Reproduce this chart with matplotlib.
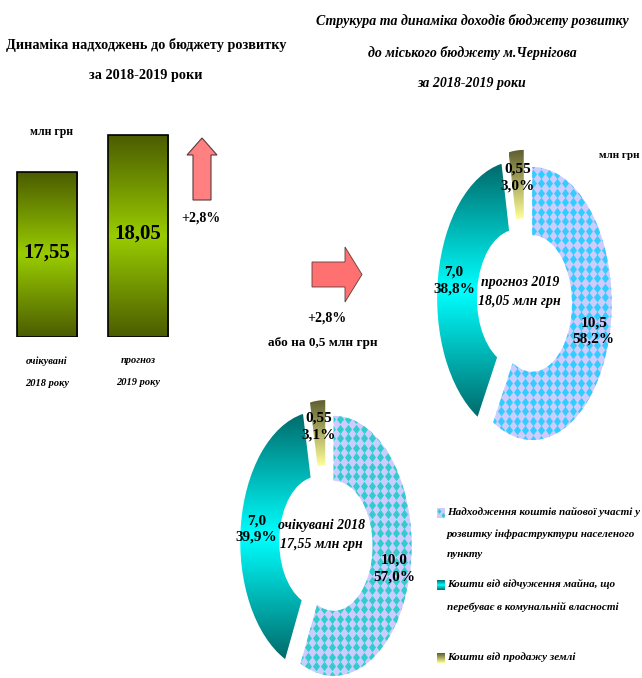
import numpy as np
import matplotlib
matplotlib.use("Agg")
import matplotlib.pyplot as plt
from matplotlib.colors import LinearSegmentedColormap
from matplotlib.patches import FancyArrow, Rectangle
from matplotlib.path import Path

plt.rcParams['font.family'] = ['Liberation Serif', 'DejaVu Serif']
plt.rcParams['font.weight'] = 'bold'

# ---- data ----
years = ['очікувані\n2018 року', 'прогноз\n2019 року']
totals = [17.55, 18.05]
total_labels = ['17,55', '18,05']
growth_pct = '+2,8%'
growth_abs = 'або на 0,5 млн грн'

sources = ['Надходження коштів пайової участі у\nрозвитку інфраструктури населеного\nпункту',
           'Кошти від відчуження майна, що\nперебуває в комунальній власності',
           'Кошти від продажу землі']
vals_2018 = [10.0, 7.0, 0.55]
vals_2019 = [10.5, 7.0, 0.55]
lbl_2018 = ['10,0\n57,0%', '7,0\n39,9%', '0,55\n3,1%']
lbl_2019 = ['10,5\n58,2%', '7,0\n38,8%', '0,55\n3,0%']
center_2018 = 'очікувані 2018\n17,55 млн грн'
center_2019 = 'прогноз 2019\n18,05 млн грн'

W, H = 642, 678
fig = plt.figure(figsize=(W / 100, H / 100), dpi=100)


def px_axes(x0, y0, x1, y1):
    a = fig.add_axes([x0 / W, 1 - y1 / H, (x1 - x0) / W, (y1 - y0) / H])
    a.axis('off')
    return a


bar_cmap = LinearSegmentedColormap.from_list('bar', ['#4b5c00', '#99cc00', '#4b5c00'])
teal_cmap = LinearSegmentedColormap.from_list('teal', ['#006b6b', '#00ffff', '#006b6b'])
olive_cmap = LinearSegmentedColormap.from_list('olive', ['#5c5c2e', '#ffff99'])
grad = np.linspace(0, 1, 256).reshape(-1, 1)

# background axes in pixel coords (texts, arrows, legend)
bg = px_axes(0, 0, W, H)
bg.set_xlim(0, W)
bg.set_ylim(H, 0)

bg.text(146, 60, 'Динаміка надходжень до бюджету розвитку\nза 2018-2019 роки',
        ha='center', va='center', fontsize=10.3, linespacing=2.6)
bg.text(472, 52, 'Струкура та динаміка доходів бюджету розвитку\nдо міського бюджету м.Чернігова\nза 2018-2019 роки',
        ha='center', va='center', fontsize=10, style='italic', linespacing=2.65)
bg.text(51, 132, 'млн грн', ha='center', va='center', fontsize=8.5)
bg.text(599, 155, 'млн грн', ha='left', va='center', fontsize=8)

# ---- bars ----
y_base = 15.32
bar_ax = px_axes(0, 65, 200, 337)
x = np.arange(len(totals))
bars = bar_ax.bar(x, np.array(totals) - y_base, bottom=y_base, width=0.66,
                  facecolor='none', edgecolor='black', linewidth=1.2, zorder=3)
for i, b in enumerate(bars):
    im = bar_ax.imshow(grad, cmap=bar_cmap, aspect='auto', zorder=2,
                       extent=(b.get_x(), b.get_x() + b.get_width(), y_base, totals[i]))
    im.set_clip_path(b)
    bar_ax.text(x[i], y_base + (totals[i] - y_base) * 0.51, total_labels[i],
                ha='center', va='center', fontsize=15, zorder=4)
    bar_ax.annotate(years[i], xy=(x[i], y_base), xytext=(0, -14), textcoords='offset points',
                    ha='center', va='top', fontsize=7.5, style='italic', linespacing=2.8,
                    annotation_clip=False)
bar_ax.set_xlim(-0.516, 1.68)
bar_ax.set_ylim(y_base, 19.0)

# ---- arrows ----
bg.add_patch(FancyArrow(202, 200, 0, -62, width=18, head_width=30, head_length=17,
                        length_includes_head=True, facecolor='#ff8080', edgecolor='#5a3a3a', lw=0.8))
bg.text(201, 218, growth_pct, ha='center', va='center', fontsize=10)
bg.add_patch(FancyArrow(312, 274.5, 50, 0, width=25, head_width=55, head_length=17,
                        length_includes_head=True, facecolor='#ff7070', edgecolor='#5a3a3a', lw=0.6))
bg.text(327, 318, growth_pct, ha='center', va='center', fontsize=10)
bg.text(323, 343, growth_abs, ha='center', va='center', fontsize=9.5)

# ---- donuts ----
diamond = Path([(0, 1), (0.75, 0), (0, -1), (-0.75, 0), (0, 1)],
               [Path.MOVETO, Path.LINETO, Path.LINETO, Path.LINETO, Path.CLOSEPOLY])


def donut(cx, cy, sx, sy, vals, labels, center, dot_color):
    ax = px_axes(cx - 1.25 * sx, cy - 1.25 * sy, cx + 1.25 * sx, cy + 1.25 * sy)
    wedges, _ = ax.pie(vals, startangle=90, counterclock=False, explode=[0.1] * len(vals),
                       wedgeprops=dict(width=0.5, edgecolor='none'))
    ax.set_aspect('auto')
    # wedge 0: lavender with diamond pattern
    w0 = wedges[0]
    w0.set_facecolor('#ccccff')
    ext = w0.get_path().get_extents()
    dx, dy = 8.0 / sx, 9.5 / sy
    gx, gy = np.meshgrid(np.arange(ext.x0, ext.x1 + dx, dx), np.arange(ext.y0, ext.y1 + dy, dy))
    sc = ax.scatter(gx.ravel(), gy.ravel(), marker=diamond, s=46, color=dot_color,
                    linewidths=0, zorder=3)
    sc.set_clip_path(w0)
    # wedge 1 and 2: gradients
    for w, cm in ((wedges[1], teal_cmap), (wedges[2], olive_cmap)):
        w.set_facecolor('none')
        e = w.get_path().get_extents()
        im = ax.imshow(grad, cmap=cm, aspect='auto',
                       extent=(e.x0, e.x1, e.y0, e.y1), zorder=2)
        im.set_clip_path(w)
    ax.set_xlim(-1.25, 1.25)
    ax.set_ylim(-1.25, 1.25)
    for w, lab in zip(wedges, labels):
        ang = np.deg2rad((w.theta1 + w.theta2) / 2)
        r = 0.8
        ax.text(w.center[0] + r * np.cos(ang), w.center[1] + r * np.sin(ang), lab,
                ha='center', va='center', fontsize=11, linespacing=1.35, zorder=5)
    ax.text(-0.06, 0.06, center, ha='center', va='center', fontsize=10,
            style='italic', linespacing=1.6, zorder=5)
    return ax


donut(524.5, 300, 79.5, 136.5, vals_2019, lbl_2019, center_2019, '#33ccff')
donut(326, 543, 78, 130, vals_2018, lbl_2018, center_2018, '#33cccc')

# ---- legend ----
leg_y = [513, 585, 658]
for k, (yy, txt) in enumerate(zip(leg_y, sources)):
    ext = (437, 445, yy + 5, yy - 5)
    if k == 0:
        bg.add_patch(Rectangle((437, yy - 5), 8, 10, facecolor='#ccccff', edgecolor='none'))
        bg.scatter([439, 443], [yy - 2, yy + 2], marker=diamond, s=14, color='#33cccc', linewidths=0)
    else:
        cm = teal_cmap if k == 1 else olive_cmap
        bg.imshow(grad, cmap=cm, aspect='auto', extent=ext)
    bg.text(447, yy - 6, txt, ha='left', va='top', fontsize=8, style='italic', linespacing=2.6)

bg.set_xlim(0, W)
bg.set_ylim(H, 0)

fig.savefig('out.png', dpi=100)
